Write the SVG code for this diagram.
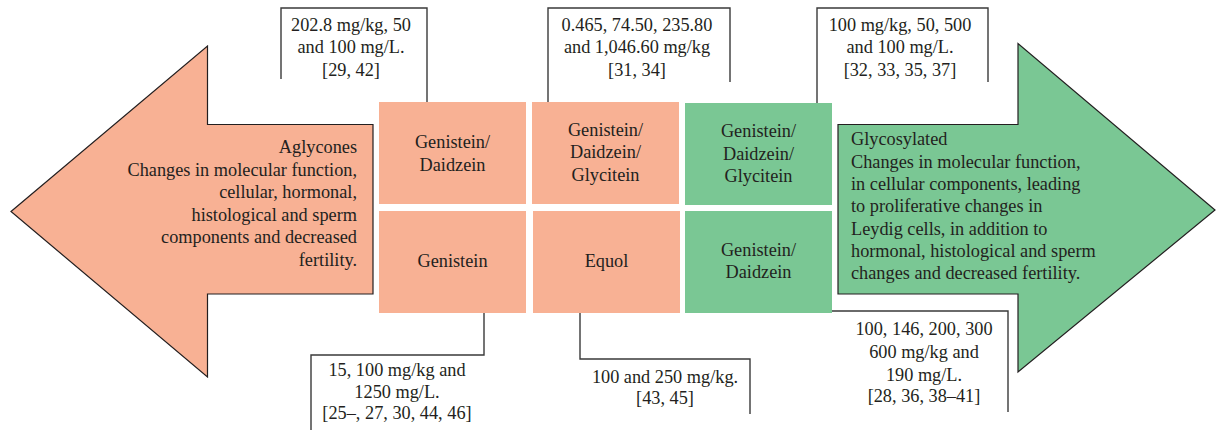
<svg xmlns="http://www.w3.org/2000/svg" width="1216" height="430" viewBox="0 0 1216 430">
<style>
  text { font-family: "Liberation Serif", "Times New Roman", serif; font-size: 18.3px; fill: #231f20; }
  .c { text-anchor: middle; }
  .r { text-anchor: end; }
  .salmon { fill: #f8b194; }
  .green { fill: #7ac794; }
  .arrow { stroke: #231f20; stroke-width: 1.2; stroke-linejoin: miter; }
  .bracket { fill: none; stroke: #3a3a3a; stroke-width: 1.4; }
</style>
<rect width="1216" height="430" fill="#ffffff"/>

<g id="aglycones-arrow">
  <polygon class="salmon arrow" points="11,211.5 207.5,46 207.5,124.5 373,124.5 373,294 207.5,294 207.5,377"/>
  <text class="r" x="357" y="153">Aglycones</text>
  <text class="r" x="357" y="175.6">Changes in molecular function,</text>
  <text class="r" x="357" y="198">cellular, hormonal,</text>
  <text class="r" x="357" y="220.6">histological and sperm</text>
  <text class="r" x="357" y="243">components and decreased</text>
  <text class="r" x="357" y="265.5">fertility.</text>
</g>

<g id="glycosylated-arrow">
  <polygon class="green arrow" points="838,124.5 1018,124.5 1018,43.5 1215,210 1018,372 1018,294 838,294"/>
  <text x="851" y="145">Glycosylated</text>
  <text x="851" y="167.6">Changes in molecular function,</text>
  <text x="851" y="190">in cellular components, leading</text>
  <text x="851" y="212.3">to proliferative changes in</text>
  <text x="851" y="234.6">Leydig cells, in addition to</text>
  <text x="851" y="257">hormonal, histological and sperm</text>
  <text x="851" y="279.3">changes and decreased fertility.</text>
</g>

<g id="box-genistein-daidzein-aglycone">
  <rect class="salmon" x="379" y="102" width="147" height="102"/>
  <text class="c" x="452.5" y="148.3">Genistein/</text>
  <text class="c" x="452.5" y="170.5">Daidzein</text>
</g>
<g id="box-gdg-aglycone">
  <rect class="salmon" x="532" y="102" width="147" height="102"/>
  <text class="c" x="605.5" y="136">Genistein/</text>
  <text class="c" x="605.5" y="158.3">Daidzein/</text>
  <text class="c" x="605.5" y="180.5">Glycitein</text>
</g>
<g id="box-gdg-glycosylated">
  <rect class="green" x="685" y="103" width="147" height="102"/>
  <text class="c" x="758.5" y="137.3">Genistein/</text>
  <text class="c" x="758.5" y="159.5">Daidzein/</text>
  <text class="c" x="758.5" y="181.5">Glycitein</text>
</g>
<g id="box-genistein">
  <rect class="salmon" x="379" y="211" width="147" height="102"/>
  <text class="c" x="452.5" y="266.7">Genistein</text>
</g>
<g id="box-equol">
  <rect class="salmon" x="533" y="211" width="147" height="102"/>
  <text class="c" x="606.5" y="266.7">Equol</text>
</g>
<g id="box-genistein-daidzein-glycosylated">
  <rect class="green" x="685" y="211" width="147" height="102"/>
  <text class="c" x="758.5" y="255.7">Genistein/</text>
  <text class="c" x="758.5" y="278.3">Daidzein</text>
</g>

<g id="connectors">
  <path class="bracket" d="M281,79 V8 H427 V102"/>
  <path class="bracket" d="M548,102 V8 H730 V82"/>
  <path class="bracket" d="M817,103 V8 H988 V82"/>
  <path class="bracket" d="M484,313 V355 H311 V430"/>
  <path class="bracket" d="M580,313 V359 H750 V414"/>
  <path class="bracket" d="M832,311 H1008 V412"/>
</g>

<g id="label-29-42">
  <text class="c" x="351" y="30.7">202.8 mg/kg, 50</text>
  <text class="c" x="351" y="53.2">and 100 mg/L.</text>
  <text class="c" x="351" y="75.8">[29, 42]</text>
</g>
<g id="label-31-34">
  <text class="c" x="637" y="30.7">0.465, 74.50, 235.80</text>
  <text class="c" x="637" y="53.2">and 1,046.60 mg/kg</text>
  <text class="c" x="637" y="75.8">[31, 34]</text>
</g>
<g id="label-32-37">
  <text class="c" x="900" y="30.7">100 mg/kg, 50, 500</text>
  <text class="c" x="900" y="53.2">and 100 mg/L.</text>
  <text class="c" x="900" y="75.8">[32, 33, 35, 37]</text>
</g>
<g id="label-25-46">
  <text class="c" x="397" y="376">15, 100 mg/kg and</text>
  <text class="c" x="397" y="397.7">1250 mg/L.</text>
  <text class="c" x="397" y="419.3">[25–, 27, 30, 44, 46]</text>
</g>
<g id="label-43-45">
  <text class="c" x="665" y="382.7">100 and 250 mg/kg.</text>
  <text class="c" x="665" y="404.3">[43, 45]</text>
</g>
<g id="label-28-41">
  <text class="c" x="924" y="335.3">100, 146, 200, 300</text>
  <text class="c" x="924" y="357.7">600 mg/kg and</text>
  <text class="c" x="924" y="380.7">190 mg/L.</text>
  <text class="c" x="924" y="402.3">[28, 36, 38–41]</text>
</g>
</svg>
